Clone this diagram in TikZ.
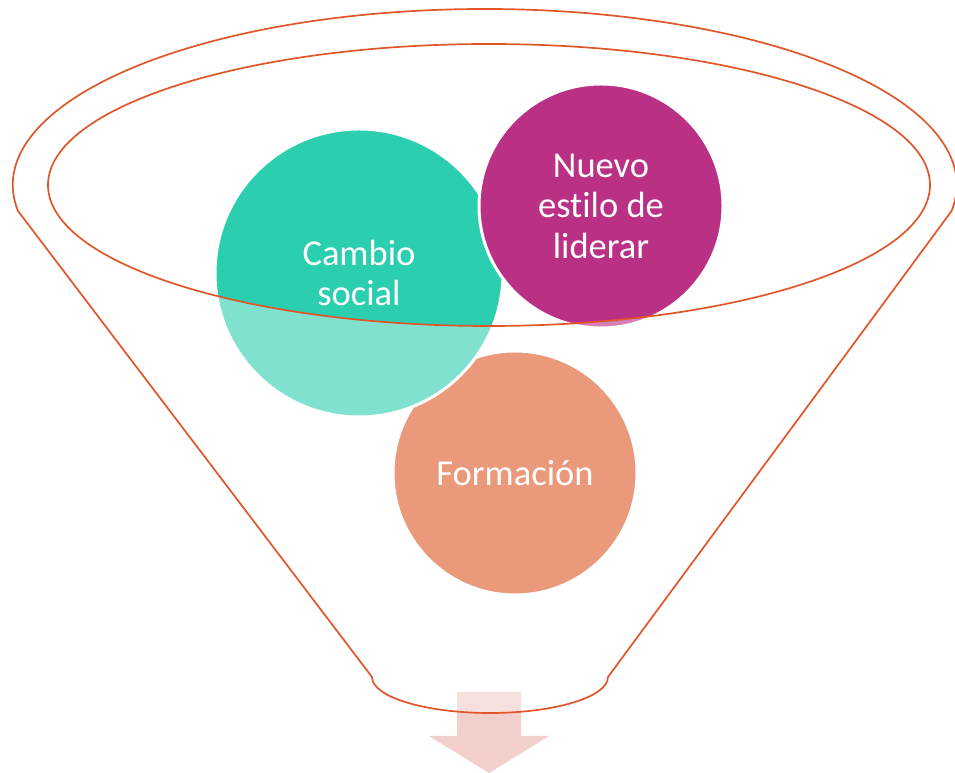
\documentclass[tikz,border=0pt]{standalone}
\usepackage{fontspec}
\setmainfont{Carlito}[Ligatures=NoCommon]
\definecolor{rimred}{HTML}{E05629}
\definecolor{tealdark}{HTML}{2BCEAE}
\definecolor{teallight}{HTML}{80E1CF}
\definecolor{plumdark}{HTML}{BA3085}
\definecolor{plumlight}{HTML}{D67FB6}
\definecolor{salmon}{HTML}{EA997B}
\definecolor{arrowpink}{HTML}{F2CFCA}
\definecolor{arrowlight}{HTML}{F6E0DD}

\begin{document}
\begin{tikzpicture}[
  x=1pt,y=1pt,
  bubbles/.style={circle,draw=white,line width=3pt,minimum size=#1,inner sep=0pt,align=center,text=white,
    font=\fontsize{36.5}{40.5}\selectfont},
  rim/.style={draw=rimred,line width=1.7pt},
  mouthfill/.style={path picture={\fill[#1] (mouth) ellipse [x radius=441,y radius=141];}},
]
\useasboundingbox (0,0) rectangle (955,773);
\coordinate (mouth) at (489,588);

% arrow out of the funnel
\fill[arrowpink] (457,81) -- (521,81) -- (521,37) -- (549,37) -- (489,0) -- (429,37) -- (457,37) -- cycle;
\begin{scope}
\clip (372,130) -- (372,96) arc[start angle=180,end angle=360,x radius=118,y radius=36] -- (608,130) -- cycle;
\fill[arrowlight] (457,37) rectangle (521,81);
\end{scope}

% circles
\node (formacion) [bubbles=244pt,fill=salmon] at (515,300) {Formación};
\node (cambio) [bubbles=288pt,fill=teallight,mouthfill=tealdark] at (359,500) {Cambio\\social};
\node (nuevo) [bubbles=244pt,fill=plumlight,mouthfill=plumdark] at (601,567) {Nuevo\\estilo de\\liderar};

% funnel
\draw[rim] (18,562) arc[start angle=188.5,end angle=-8.5,x radius=472,y radius=176]
  -- (608,96) arc[start angle=0,end angle=-180,x radius=118,y radius=36] -- cycle;
\draw[rim] (mouth) ellipse [x radius=441,y radius=141];
\end{tikzpicture}
\end{document}
